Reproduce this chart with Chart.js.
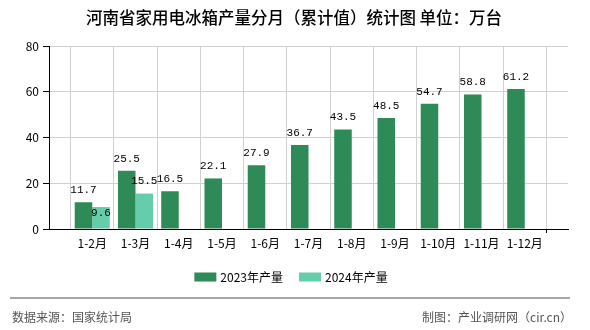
<!DOCTYPE html>
<html>
<head>
<meta charset="utf-8">
<script src="https://cdn.jsdelivr.net/npm/chart.js@4.4.1/dist/chart.umd.min.js"></script>
<style>
  html, body { margin: 0; padding: 0; background: #fff; }
  #wrap { width: 590px; height: 330px; position: relative; }
</style>
</head>
<body>
<div id="wrap"><canvas id="c" width="590" height="330"></canvas></div>
<script>
const titleText = '河南省家用电冰箱产量分月（累计值）统计图 单位：万台';
const categories = ['1-2月', '1-3月', '1-4月', '1-5月', '1-6月', '1-7月', '1-8月', '1-9月', '1-10月', '1-11月', '1-12月'];
const series2023 = [11.7, 25.5, 16.5, 22.1, 27.9, 36.7, 43.5, 48.5, 54.7, 58.8, 61.2];
const series2024 = [9.6, 15.5, null, null, null, null, null, null, null, null, null];
const seriesNames = ['2023年产量', '2024年产量'];
const yTicks = [0, 20, 40, 60, 80];
const sourceText = '数据来源：国家统计局';
const creditText = '制图：产业调研网（cir.cn）';

const colors = ['#2e8b57', '#66cdaa'];
const CJK = '"Noto Sans CJK SC", "Noto Sans", sans-serif';

// pad category axis with empty boundary slots so bars sit on grid lines
const labels = [''].concat(categories, ['']);
const pad = arr => [null].concat(arr, [null]);

const decorPlugin = {
  id: 'decor',
  afterDraw(chart) {
    const ctx = chart.ctx;
    ctx.save();
    // title
    ctx.fillStyle = '#000';
    ctx.font = '500 16.5px ' + CJK;
    ctx.textAlign = 'center';
    ctx.textBaseline = 'middle';
    ctx.fillText(titleText, 294, 18);

    // legend
    ctx.font = '12px ' + CJK;
    const boxW = 22, boxH = 9, gapBox = 4, gapItem = 16;
    const items = chart.data.datasets.map((d, i) => ({
      label: d.label, color: d.backgroundColor, w: boxW + gapBox + ctx.measureText(d.label).width
    }));
    const total = items.reduce((s, it) => s + it.w, 0) + gapItem * (items.length - 1);
    let x = 291 - total / 2;
    const ly = 277;
    items.forEach(it => {
      ctx.fillStyle = it.color;
      ctx.fillRect(x, ly - boxH / 2, boxW, boxH);
      ctx.fillStyle = '#000';
      ctx.textAlign = 'left';
      ctx.fillText(it.label, x + boxW + gapBox, ly);
      x += it.w + gapItem;
    });

    // footer
    ctx.strokeStyle = '#888';
    ctx.lineWidth = 1.5;
    ctx.beginPath();
    ctx.moveTo(10, 298);
    ctx.lineTo(570, 298);
    ctx.stroke();
    ctx.fillStyle = '#555';
    ctx.font = '12px ' + CJK;
    ctx.textAlign = 'left';
    ctx.fillText(sourceText, 12, 317);
    ctx.textAlign = 'right';
    ctx.fillText(creditText, 572, 317);
    ctx.restore();
  }
};

const valueLabelPlugin = {
  id: 'valueLabels',
  afterDatasetsDraw(chart) {
    const ctx = chart.ctx;
    ctx.save();
    ctx.font = '11px "Liberation Mono", "DejaVu Sans Mono", monospace';
    ctx.fillStyle = '#000';
    ctx.textAlign = 'center';
    ctx.textBaseline = 'middle';
    const boxes = [];
    const h = 12;
    chart.data.datasets.forEach((ds, di) => {
      const meta = chart.getDatasetMeta(di);
      meta.data.forEach((el, i) => {
        const v = ds.data[i];
        if (v === null || v === undefined) return;
        const txt = v.toFixed(1);
        const w = ctx.measureText(txt).width;
        let cy = el.y - 12;
        const box = { x1: el.x - w / 2, x2: el.x + w / 2, y1: cy - h / 2, y2: cy + h / 2 };
        const hit = boxes.some(b => box.x1 < b.x2 - 2 && box.x2 > b.x1 + 2 && box.y1 < b.y2 && box.y2 > b.y1);
        if (hit) {
          cy = el.y + 6;
          box.y1 = cy - h / 2; box.y2 = cy + h / 2;
        }
        boxes.push(box);
        ctx.fillText(txt, el.x, cy);
      });
    });
    ctx.restore();
  }
};

new Chart(document.getElementById('c'), {
  type: 'bar',
  data: {
    labels: labels,
    datasets: [
      { label: seriesNames[0], data: pad(series2023), backgroundColor: colors[0], borderWidth: 0 },
      { label: seriesNames[1], data: pad(series2024), backgroundColor: colors[1], borderWidth: 0 }
    ]
  },
  options: {
    responsive: false,
    animation: false,
    events: [],
    layout: { padding: { top: 46, left: 0, right: 22, bottom: 81 } },
    datasets: { bar: { barPercentage: 1.0, categoryPercentage: 0.81 } },
    plugins: {
      legend: { display: false },
      title: { display: false },
      tooltip: { enabled: false }
    },
    scales: {
      x: {
        type: 'category',
        offset: false,
        border: { display: true, color: '#000', width: 1 },
        grid: {
          color: c => (c.index === 0 ? 'rgba(0,0,0,0)' : '#d0d0d0'),
          tickColor: c => ((c.index === 0 || c.index === labels.length - 1) ? '#000' : 'rgba(0,0,0,0)'),
          tickLength: 4,
          lineWidth: 1
        },
        ticks: {
          autoSkip: false,
          maxRotation: 0,
          minRotation: 0,
          padding: 3,
          color: '#000',
          font: { family: CJK, size: 12 }
        },
        afterFit(scale) { scale.height = 20; }
      },
      y: {
        min: 0,
        max: 80,
        afterBuildTicks(scale) { scale.ticks = yTicks.map(v => ({ value: v })); },
        border: { display: true, color: '#000', width: 1 },
        grid: {
          color: '#d0d0d0',
          tickColor: '#000',
          tickLength: 6,
          lineWidth: 1
        },
        ticks: {
          padding: 4,
          color: '#000',
          font: { family: CJK, size: 12 }
        },
        afterFit(scale) { scale.width = 49; }
      }
    }
  },
  plugins: [decorPlugin, valueLabelPlugin]
});
</script>
</body>
</html>
